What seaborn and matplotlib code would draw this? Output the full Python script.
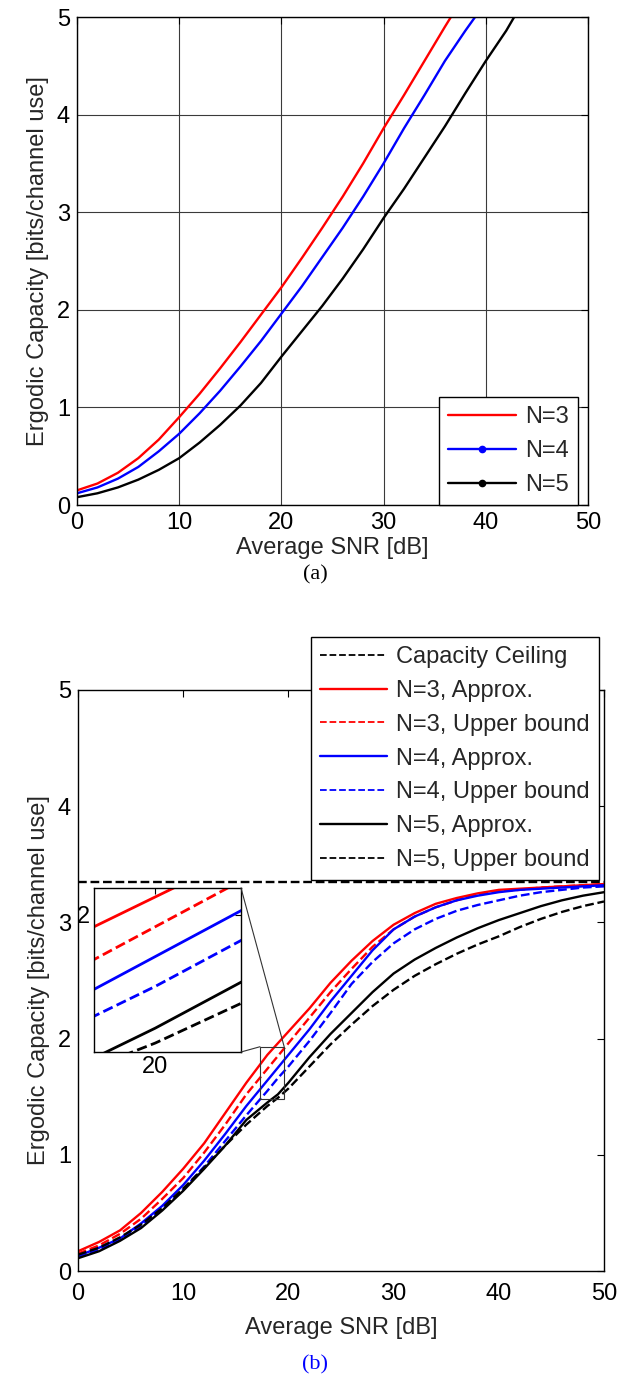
import numpy as np
import pandas as pd
import matplotlib
matplotlib.use("Agg")
import matplotlib.pyplot as plt
import seaborn as sns
from matplotlib.lines import Line2D
from matplotlib.patches import Rectangle, ConnectionPatch

# ---------------- Panel (a) data ----------------
A_N3_X = [0, 2, 4, 6, 8, 10, 12, 14, 16, 18, 20, 22, 24, 26, 28, 30, 32, 34, 36, 37]
A_N3_Y = [0.15, 0.22, 0.33, 0.48, 0.67, 0.90, 1.14, 1.40, 1.67, 1.95, 2.23, 2.53, 2.84, 3.16, 3.50, 3.86, 4.20, 4.55, 4.90, 5.07]
A_N4_X = [0, 2, 4, 6, 8, 10, 12, 14, 16, 18, 20, 22, 24, 26, 28, 30, 32, 34, 36, 38, 39.5]
A_N4_Y = [0.12, 0.18, 0.27, 0.39, 0.55, 0.73, 0.94, 1.17, 1.42, 1.68, 1.96, 2.24, 2.54, 2.84, 3.16, 3.50, 3.86, 4.20, 4.55, 4.86, 5.08]
A_N5_X = [0, 2, 4, 6, 8, 10, 12, 14, 16, 18, 20, 22, 24, 26, 28, 30, 32, 34, 36, 38, 40, 42, 43]
A_N5_Y = [0.08, 0.12, 0.18, 0.26, 0.36, 0.48, 0.64, 0.82, 1.02, 1.25, 1.52, 1.78, 2.04, 2.32, 2.62, 2.94, 3.24, 3.56, 3.88, 4.22, 4.55, 4.86, 5.04]
A_LABELS = ["N=3", "N=4", "N=5"]

# ---------------- Panel (b) data ----------------
B_X = [0, 2, 4, 6, 8, 10, 12, 14, 16, 18, 19, 20, 22, 24, 26, 28, 30, 32, 34, 36, 38, 40, 42, 44, 46, 48, 50]
B_N3_APPROX = [0.17, 0.25, 0.35, 0.50, 0.68, 0.88, 1.10, 1.36, 1.62, 1.86, 1.96, 2.06, 2.26, 2.48, 2.67, 2.84, 2.98, 3.08, 3.16, 3.21, 3.25, 3.28, 3.29, 3.30, 3.31, 3.32, 3.33]
B_N3_UPPER = [0.15, 0.22, 0.32, 0.45, 0.62, 0.80, 1.02, 1.26, 1.52, 1.74, 1.85, 1.96, 2.18, 2.40, 2.60, 2.79, 2.94, 3.05, 3.13, 3.19, 3.24, 3.27, 3.28, 3.30, 3.31, 3.32, 3.33]
B_N4_APPROX = [0.13, 0.20, 0.28, 0.41, 0.56, 0.74, 0.95, 1.18, 1.42, 1.64, 1.75, 1.86, 2.08, 2.32, 2.54, 2.76, 2.94, 3.05, 3.13, 3.19, 3.23, 3.26, 3.28, 3.29, 3.30, 3.31, 3.32]
B_N4_UPPER = [0.12, 0.18, 0.27, 0.39, 0.53, 0.70, 0.90, 1.12, 1.34, 1.55, 1.66, 1.76, 1.98, 2.22, 2.47, 2.66, 2.82, 2.94, 3.03, 3.10, 3.15, 3.19, 3.23, 3.26, 3.28, 3.30, 3.31]
B_N5_APPROX = [0.11, 0.17, 0.26, 0.37, 0.52, 0.69, 0.88, 1.08, 1.30, 1.45, 1.52, 1.62, 1.84, 2.04, 2.22, 2.40, 2.56, 2.68, 2.78, 2.87, 2.95, 3.02, 3.08, 3.14, 3.19, 3.23, 3.26]
B_N5_UPPER = [0.14, 0.20, 0.29, 0.40, 0.54, 0.71, 0.89, 1.08, 1.26, 1.42, 1.49, 1.57, 1.76, 1.95, 2.12, 2.28, 2.42, 2.54, 2.64, 2.73, 2.81, 2.88, 2.96, 3.03, 3.09, 3.14, 3.18]
CEIL_X = [0, 50]
CEIL_Y = [3.35, 3.35]
B_LABELS = ["Capacity Ceiling", "N=3, Approx.", "N=3, Upper bound", "N=4, Approx.",
            "N=4, Upper bound", "N=5, Approx.", "N=5, Upper bound"]

# magnified view (inset limits) and the marker box drawn on the main axes
INSET_XLIM = (19.0, 21.4)
INSET_YLIM = (1.54, 2.09)
ZOOM_BOX_X = (17.3, 19.6)
ZOOM_BOX_Y = (1.48, 1.93)

X_TICKS = [0, 10, 20, 30, 40, 50]
Y_TICKS = [0, 1, 2, 3, 4, 5]

sns.set_theme(style="white")
plt.rcParams['font.family'] = ['Liberation Sans', 'DejaVu Sans']
plt.rcParams['axes.edgecolor'] = 'black'
plt.rcParams['axes.linewidth'] = 1.0

FS = 17
RED, BLUE, BLACK = '#ff0000', '#0000ff', '#000000'
LW = 1.7

fig = plt.figure(figsize=(6.27, 13.82), dpi=100)
W, H = 627, 1382

def axes_px(l, t, r, b):
    return fig.add_axes([l / W, 1 - b / H, (r - l) / W, (b - t) / H])

def draw(ax, x, y, color, ls='-', lw=LW):
    sns.lineplot(x=x, y=y, ax=ax, color=color, linestyle=ls, linewidth=lw,
                 legend=False, sort=False, errorbar=None)

def style_axes(ax, xpad, xlabelpad):
    ax.set_xlim(0, 50)
    ax.set_ylim(0, 5)
    ax.set_xticks(X_TICKS)
    ax.set_yticks(Y_TICKS)
    ax.tick_params(direction='in', top=True, right=True, length=5, width=0.8,
                   labelsize=FS, pad=5, colors='black')
    ax.tick_params(axis='x', pad=xpad)
    for s in ax.spines.values():
        s.set_visible(True)
        s.set_color('black')
        s.set_linewidth(1.0)
    ax.set_xlabel("Average SNR [dB]", fontsize=FS, labelpad=xlabelpad)
    ax.set_ylabel("Ergodic Capacity [bits/channel use]", fontsize=FS, labelpad=6)

LEG_KW = dict(fontsize=FS, frameon=True, fancybox=False, edgecolor='black',
              framealpha=1, handlelength=2.85, handletextpad=0.4,
              labelspacing=0.5, borderpad=0.38, numpoints=1, borderaxespad=0)

# ---------------- Panel (a) ----------------
ax_a = axes_px(77, 17, 588, 505)
draw(ax_a, A_N3_X, A_N3_Y, RED)
draw(ax_a, A_N4_X, A_N4_Y, BLUE)
draw(ax_a, A_N5_X, A_N5_Y, BLACK)
style_axes(ax_a, 5, 2)
ax_a.grid(True, color='#3a3a3a', linewidth=0.8, linestyle='-')
ax_a.set_axisbelow(True)
handles_a = [
    Line2D([], [], color=RED, lw=LW),
    Line2D([], [], color=BLUE, lw=LW, marker='o', markersize=4.5),
    Line2D([], [], color=BLACK, lw=LW, marker='o', markersize=4.5),
]
leg_a = ax_a.legend(handles_a, A_LABELS, loc='lower right', bbox_to_anchor=(0.980, 0.0),
                    **LEG_KW)
leg_a.get_frame().set_linewidth(1.0)
fig.text(315 / W, 1 - 575 / H, "(a)", ha='center', va='center', fontsize=16,
         family=['Liberation Serif', 'DejaVu Serif'], color='black')

# ---------------- Panel (b) ----------------
ax_b = axes_px(78, 690, 604, 1271)
draw(ax_b, CEIL_X, CEIL_Y, BLACK, '--')
draw(ax_b, B_X, B_N3_APPROX, RED)
draw(ax_b, B_X, B_N3_UPPER, RED, '--')
draw(ax_b, B_X, B_N4_APPROX, BLUE)
draw(ax_b, B_X, B_N4_UPPER, BLUE, '--')
draw(ax_b, B_X, B_N5_APPROX, BLACK)
draw(ax_b, B_X, B_N5_UPPER, BLACK, '--')
style_axes(ax_b, 9, 8)
ax_b.grid(False)
handles_b = [
    Line2D([], [], color=BLACK, lw=1.3, ls='--'),
    Line2D([], [], color=RED, lw=LW),
    Line2D([], [], color=RED, lw=1.3, ls='--'),
    Line2D([], [], color=BLUE, lw=LW),
    Line2D([], [], color=BLUE, lw=1.3, ls='--'),
    Line2D([], [], color=BLACK, lw=LW),
    Line2D([], [], color=BLACK, lw=1.3, ls='--'),
]
leg_b = ax_b.legend(handles_b, B_LABELS, loc='upper right', bbox_to_anchor=(0.9905, 1.091),
                    **LEG_KW)
leg_b.get_frame().set_linewidth(1.0)

# inset
axins = axes_px(94, 888, 241, 1052)
draw(axins, B_X, B_N3_APPROX, RED, '-', 2.0)
draw(axins, B_X, B_N3_UPPER, RED, '--', 2.0)
draw(axins, B_X, B_N4_APPROX, BLUE, '-', 2.0)
draw(axins, B_X, B_N4_UPPER, BLUE, '--', 2.0)
draw(axins, B_X, B_N5_APPROX, BLACK, '-', 2.0)
draw(axins, B_X, B_N5_UPPER, BLACK, '--', 2.0)
axins.set_xlim(*INSET_XLIM)
axins.set_ylim(*INSET_YLIM)
axins.set_xticks([20])
axins.set_yticks([2])
axins.set_xlabel("")
axins.set_ylabel("")
axins.tick_params(direction='in', top=True, right=True, length=4, width=0.8,
                  labelsize=FS, pad=3, colors='black')
axins.set_facecolor('white')
for s in axins.spines.values():
    s.set_visible(True)
    s.set_color('black')
    s.set_linewidth(1.0)

rect = Rectangle((ZOOM_BOX_X[0], ZOOM_BOX_Y[0]), ZOOM_BOX_X[1] - ZOOM_BOX_X[0],
                 ZOOM_BOX_Y[1] - ZOOM_BOX_Y[0], fill=False, edgecolor='#333333',
                 linewidth=0.8, zorder=5)
ax_b.add_patch(rect)
con1 = ConnectionPatch(xyA=(1, 1), coordsA=axins.transAxes,
                       xyB=(ZOOM_BOX_X[1], ZOOM_BOX_Y[1]), coordsB=ax_b.transData,
                       color='#333333', lw=0.8)
con2 = ConnectionPatch(xyA=(1, 0), coordsA=axins.transAxes,
                       xyB=(ZOOM_BOX_X[0], ZOOM_BOX_Y[1]), coordsB=ax_b.transData,
                       color='#333333', lw=0.8)
fig.add_artist(con1)
fig.add_artist(con2)

fig.text(315 / W, 1 - 1365 / H, "(b)", ha='center', va='center', fontsize=16,
         family=['Liberation Serif', 'DejaVu Serif'], color='#0000ff')

fig.savefig("out.png", dpi=100)
